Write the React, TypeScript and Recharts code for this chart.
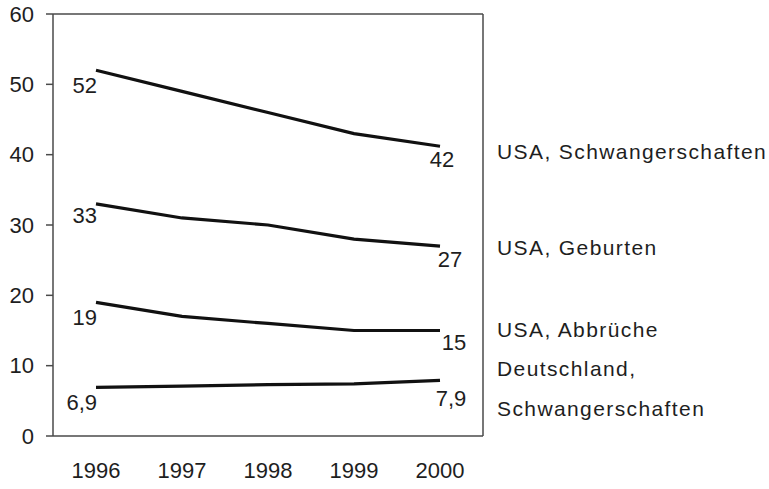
import React from "react";
import { LineChart, Line, XAxis, YAxis, LabelList } from "recharts";

const years = ["1996", "1997", "1998", "1999", "2000"];
const usaSchwangerschaften = [52, 49, 46, 43, 41.2];
const usaGeburten = [33, 31, 30, 28, 27];
const usaAbbrueche = [19, 17, 16, 15, 15];
const deSchwangerschaften = [6.9, 7.1, 7.3, 7.4, 7.9];
const yTicks = [0, 10, 20, 30, 40, 50, 60];

const seriesKeys = ["usaS", "usaG", "usaA", "deS"];
const seriesNames = [
  ["USA, Schwangerschaften"],
  ["USA, Geburten"],
  ["USA, Abbrüche"],
  ["Deutschland,", "Schwangerschaften"],
];
const startLabels = ["52", "33", "19", "6,9"];
const endLabels = ["42", "27", "15", "7,9"];

const data = years.map((year, i) => ({
  year,
  usaS: usaSchwangerschaften[i],
  usaG: usaGeburten[i],
  usaA: usaAbbrueche[i],
  deS: deSchwangerschaften[i],
}));

// label offsets relative to the line ends
const startOffset = [15, 12, 15, 15];
const endOffset = [
  { dx: 2, dy: 13 },
  { dx: 10, dy: 13 },
  { dx: 14, dy: 12 },
  { dx: 11, dy: 18 },
];
const nameOffset = [[5], [1], [-1], [-12, 28]];

const TEXT = "#1e1e1e";
const INK = "#111";
const FRAME = "#4a4a4a";

const makeLabel = (s: number) => (props: any) => {
  const { x, y, index } = props;
  if (index === 0) {
    return (
      <text x={x + 1} y={y + startOffset[s]} textAnchor="end" dominantBaseline="central" fill={TEXT} fontSize={22}>
        {startLabels[s]}
      </text>
    );
  }
  if (index === years.length - 1) {
    return (
      <g>
        <text
          x={x + endOffset[s].dx}
          y={y + endOffset[s].dy}
          textAnchor="middle"
          dominantBaseline="central"
          fill={TEXT}
          fontSize={22}
        >
          {endLabels[s]}
        </text>
        {seriesNames[s].map((name, k) => (
          <text
            key={k}
            x={x + 57}
            y={y + nameOffset[s][k]}
            textAnchor="start"
            dominantBaseline="central"
            fill={TEXT}
            fontSize={21}
            letterSpacing={1.4}
          >
            {name}
          </text>
        ))}
      </g>
    );
  }
  return null;
};

export default function App() {
  return (
    <div
      style={{
        position: "absolute",
        left: 0,
        top: 0,
        width: 769,
        height: 489,
        background: "#fff",
        fontFamily: "'Liberation Sans', Arial, sans-serif",
      }}
    >
      <LineChart width={769} height={489} data={data} margin={{ top: 13, right: 285, bottom: 0, left: 0 }}>
        <XAxis
          dataKey="year"
          padding={{ left: 43, right: 43 }}
          height={53}
          axisLine={{ stroke: FRAME, strokeWidth: 1.5 }}
          tickLine={false}
          tickSize={0}
          tickMargin={26}
          tick={{ fill: TEXT, fontSize: 22 }}
        />
        <XAxis
          xAxisId="top"
          orientation="top"
          dataKey="year"
          height={1}
          axisLine={{ stroke: FRAME, strokeWidth: 1.5 }}
          tick={false}
          tickLine={false}
        />
        <YAxis
          domain={[0, 60]}
          ticks={yTicks}
          width={53}
          axisLine={{ stroke: FRAME, strokeWidth: 1.5 }}
          tickLine={{ stroke: FRAME, strokeWidth: 1.5 }}
          tickSize={7}
          tickMargin={12}
          tick={{ fill: TEXT, fontSize: 22 }}
        />
        <YAxis
          yAxisId="right"
          orientation="right"
          domain={[0, 60]}
          width={1}
          axisLine={{ stroke: FRAME, strokeWidth: 1.5 }}
          tick={false}
          tickLine={false}
        />
        {seriesKeys.map((key, s) => (
          <Line
            key={key}
            dataKey={key}
            type="linear"
            stroke={INK}
            strokeWidth={3.2}
            dot={false}
            activeDot={false}
            isAnimationActive={false}
          >
            <LabelList dataKey={key} content={makeLabel(s)} />
          </Line>
        ))}
      </LineChart>
    </div>
  );
}
